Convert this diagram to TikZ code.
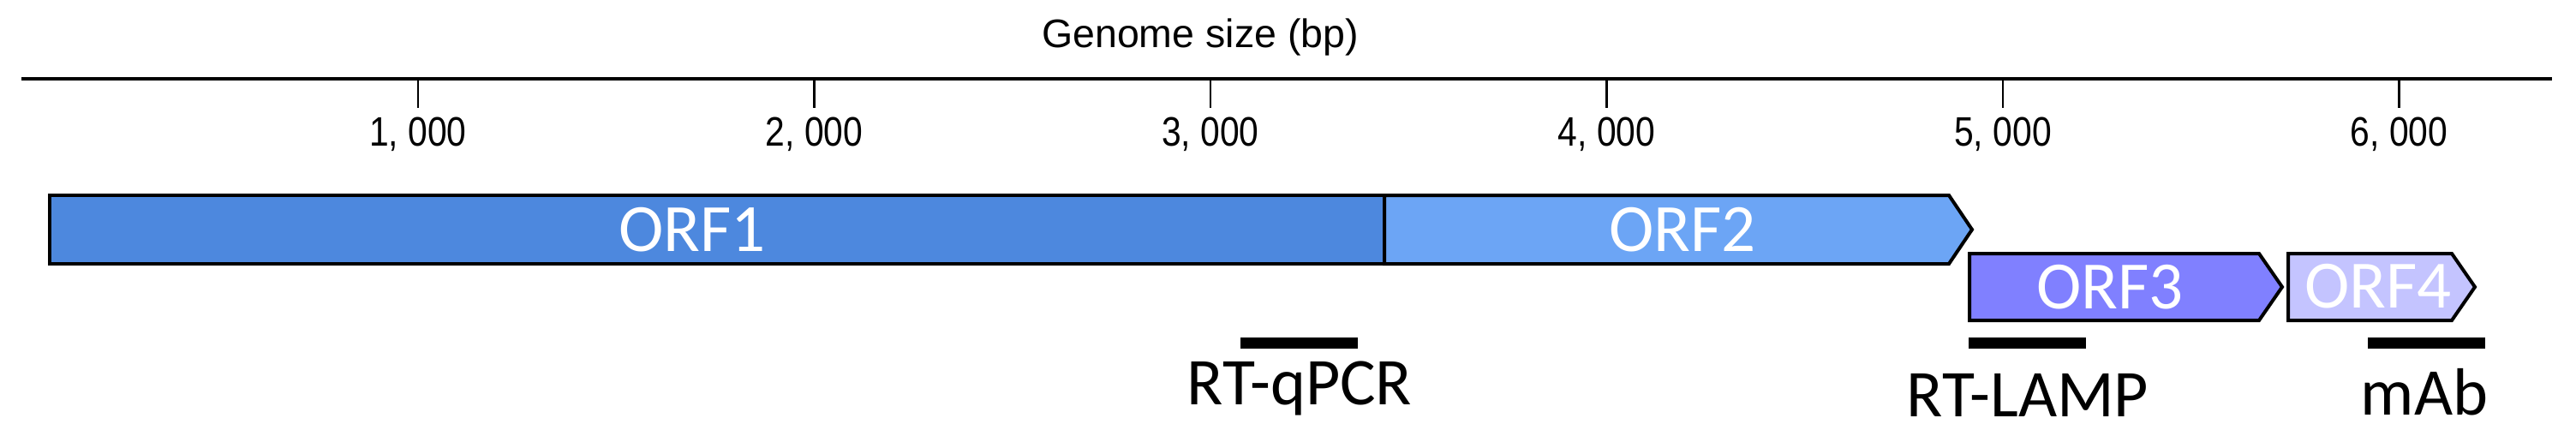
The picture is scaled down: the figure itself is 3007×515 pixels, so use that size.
\documentclass[tikz,border=0pt]{standalone}
\usepackage{fontspec}
\setmainfont{Carlito}
\newfontfamily\axisfont{Liberation Sans}
\newfontfamily\tickfont[FakeStretch=0.85]{Liberation Sans}
\definecolor{orfone}{RGB}{77,136,222}
\definecolor{orftwo}{RGB}{108,165,245}
\definecolor{orfthree}{RGB}{128,128,255}
\definecolor{orffour}{RGB}{196,196,255}
\tikzset{
  orfbox/.style={draw=black, line width=4pt, line join=miter},
  orflabel/.style={anchor=base, inner sep=0pt, text=white, font=\fontsize{79}{90}\selectfont},
  assaybar/.style={line width=13pt, line cap=butt},
  assaylabel/.style={anchor=base, inner sep=0pt, font=\fontsize{78}{90}\selectfont},
  ticklabel/.style={anchor=base, inner sep=0pt, font=\tickfont\fontsize{48}{56}\selectfont},
  tickmark/.style={line width=2.5pt}
}
\begin{document}
\begin{tikzpicture}[x=1pt,y=-1pt]
\useasboundingbox (0,0) rectangle (3007,515);
% axis
\node[anchor=base, inner sep=0pt, font=\axisfont\fontsize{46.5}{56}\selectfont] (title) at (1401,55) {Genome size (bp)};
\coordinate (axl) at (25,92);
\coordinate (axr) at (2979,92);
\draw[line width=4.5pt] (axl) -- (axr);
\foreach \x/\lab [count=\i] in {488/{1, 000},950.5/{2, 000},1413/{3, 000},1875.5/{4, 000},2338/{5, 000},2800.5/{6, 000}}{
  \coordinate (t\i) at (\x,92);
  \coordinate (tb\i) at (\x,126);
  \draw[tickmark] (t\i) -- (tb\i);
  \node[ticklabel] (tl\i) at (\x,170) {\lab};
}
% ORFs
\draw[orfbox, fill=orfone] (58,228) rectangle (1616,308);
\draw[orfbox, fill=orftwo] (1616,228) -- (2275,228) -- (2302,268) -- (2275,308) -- (1616,308) -- cycle;
\draw[orfbox, fill=orfthree] (2299,296) -- (2637,296) -- (2664,335) -- (2637,374) -- (2299,374) -- cycle;
\draw[orfbox, fill=orffour] (2671,296) -- (2862,296) -- (2889,335) -- (2862,374) -- (2671,374) -- cycle;
\node[orflabel] (orf1) at (808,293) {ORF1};
\node[orflabel] (orf2) at (1964,293) {ORF2};
\node[orflabel] (orf3) at (2463,360) {ORF3};
\node[orflabel] (orf4) at (2776,359) {ORF4};
% assays
\coordinate (qa) at (1448,400); \coordinate (qb) at (1585,400);
\coordinate (la) at (2298,400); \coordinate (lb) at (2435,400);
\coordinate (ma) at (2764,400); \coordinate (mb) at (2901,400);
\draw[assaybar] (qa) -- (qb);
\draw[assaybar] (la) -- (lb);
\draw[assaybar] (ma) -- (mb);
\node[assaylabel] (qpcr) at (1517,472) {RT-qPCR};
\node[assaylabel] (lamp) at (2367,486) {RT-LAMP};
\node[assaylabel] (mab) at (2830,484) {mAb};
\end{tikzpicture}
\end{document}
